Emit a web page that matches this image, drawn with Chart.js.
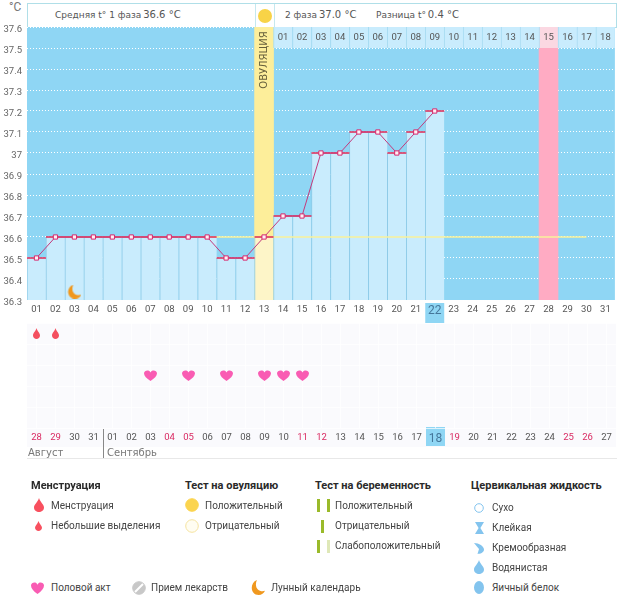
<!DOCTYPE html>
<html>
<head>
<meta charset="utf-8">
<script src="https://cdn.jsdelivr.net/npm/chart.js@4"></script>
<style>
  html, body { margin: 0; padding: 0; background: #fff; overflow: hidden; }
  body { position: relative; width: 626px; height: 595px; font-family: Roboto, sans-serif; color: #444; }
  canvas { display: block; }
  .abs { position: absolute; white-space: nowrap; }
  .t { position: absolute; white-space: nowrap; transform: translateY(-50%); line-height: 1; }
  .head { font-family: "DejaVu Sans", sans-serif; font-size: 9px; color: #555; }
  .head b { font-weight: normal; font-size: 10px; margin-left: -1px; }
  .leg { font-family: Roboto, sans-serif; font-size: 10px; color: #444; }
  .legb { font-family: Roboto, sans-serif; font-size: 11px; font-weight: bold; color: #2a2a2a; }
  .month { font-family: "DejaVu Sans", sans-serif; font-size: 10px; color: #777; }
</style>
</head>
<body>
<div class="abs" style="left:27px;top:3px;width:588px;height:23px;border:1px solid #b0dfe8;"></div>
<div class="abs" style="left:255px;top:4px;width:1px;height:23px;background:#c5e8ef;"></div>
<div class="abs" style="left:274px;top:4px;width:1px;height:23px;background:#c5e8ef;"></div>
<div class="abs" style="left:258px;top:9px;width:14px;height:14px;border-radius:50%;background:#f8d347;"></div>
<div class="t head" style="left:55px;top:15px;">Средняя t° 1 фаза <b>36.6 °C</b></div>
<div class="t head" style="left:285px;top:15px;">2 фаза <b>37.0 °C</b></div>
<div class="t head" style="left:376px;top:15px;">Разница t° <b>0.4 °C</b></div>
<div class="t" style="left:9px;top:7px;font-size:12px;color:#777;">°C</div>

<canvas id="tempChart" class="abs" style="left:0;top:0" width="626" height="325"></canvas>
<canvas id="symptomChart" class="abs" style="left:0;top:300px" width="626" height="160"></canvas>

<div class="t month" style="left:28px;top:453px;">Август</div>
<div class="t month" style="left:107px;top:453px;">Сентябрь</div>
<div class="abs" style="left:103px;top:429px;width:1px;height:29px;background:#888;"></div>
<div class="abs" style="left:27px;top:458px;width:590px;height:1px;background:#e8e8e8;"></div>
<div id="legend"></div>

<script>
const cycleDays = ["01","02","03","04","05","06","07","08","09","10","11","12","13","14","15","16",
  "17","18","19","20","21","22","23","24","25","26","27","28","29","30","31"];
const calendarDays = ["28","29","30","31","01","02","03","04","05","06","07","08","09","10","11","12",
  "13","14","15","16","17","18","19","20","21","22","23","24","25","26","27"];
const weekendDays = ["28","29","04","05","11","12","19","25","26"];
const phaseTwoDays = ["01","02","03","04","05","06","07","08","09","10","11","12","13","14","15","16","17","18"];
const tempTicks = ["36.3","36.4","36.5","36.6","36.7","36.8","36.9","37","37.1","37.2","37.3","37.4","37.5","37.6"];
const temps = [36.5,36.6,36.6,36.6,36.6,36.6,36.6,36.6,36.6,36.6,36.5,36.5,36.6,36.7,36.7,37.0,37.0,37.1,37.1,37.0,37.1,37.2,
  null,null,null,null,null,null,null,null,null];
const coverline = [null,36.6,36.6,36.6,36.6,36.6,36.6,36.6,36.6,36.6,36.6,36.6,36.6,36.6,36.6,36.6,36.6,36.6,36.6,36.6,36.6,36.6,
  36.6,36.6,36.6,36.6,36.6,36.6,36.6,36.6,null];
const ovulationDay = "13";
const expectedPeriodDay = "28";
const todayDay = "22";
const moonDays = ["03"];
const spottingDays = ["01","02"];
const sexDays = ["07","09","11","13","14","15"];

const BLUE = "#8fd6f4", LIGHT = "#c9ecfd", EDGE = "#8fcbe8", TODAY_TEXT = "#45779a";
const tickFont = { family: "Roboto", size: 9.5 };
const todayFont = { family: "Roboto", size: 12 };
const idx = (d) => cycleDays.indexOf(d);

const makeIcon = (w, h, draw) => {
  const c = document.createElement("canvas");
  c.width = w; c.height = h;
  draw(c.getContext("2d"), w, h);
  return c;
};
const drop = (color) => (g, w, h) => {
  g.fillStyle = color;
  g.beginPath();
  g.moveTo(w / 2, 0);
  g.bezierCurveTo(w * 0.62, h * 0.3, w, h * 0.45, w, h * 0.68);
  g.bezierCurveTo(w, h * 0.88, w * 0.75, h, w / 2, h);
  g.bezierCurveTo(w * 0.25, h, 0, h * 0.88, 0, h * 0.68);
  g.bezierCurveTo(0, h * 0.45, w * 0.38, h * 0.3, w / 2, 0);
  g.fill();
};
const heart = (color) => (g, w, h) => {
  g.fillStyle = color;
  g.beginPath();
  g.moveTo(w / 2, h);
  g.bezierCurveTo(w * 0.2, h * 0.78, 0, h * 0.55, 0, h * 0.3);
  g.bezierCurveTo(0, h * 0.05, w * 0.38, -h * 0.08, w / 2, h * 0.22);
  g.bezierCurveTo(w * 0.62, -h * 0.08, w, h * 0.05, w, h * 0.3);
  g.bezierCurveTo(w, h * 0.55, w * 0.8, h * 0.78, w / 2, h);
  g.fill();
};
const moon = (color) => (g, w, h) => {
  g.fillStyle = color;
  g.beginPath();
  g.moveTo(w * 0.42, 0);
  g.bezierCurveTo(-w * 0.12, h * 0.2, -w * 0.05, h, w * 0.55, h);
  g.bezierCurveTo(w * 0.75, h, w * 0.92, h * 0.9, w, h * 0.72);
  g.bezierCurveTo(w * 0.62, h * 0.85, w * 0.18, h * 0.55, w * 0.42, 0);
  g.fill();
};

const legendBox = document.getElementById("legend");
const addText = (cls, txt, x, y) => {
  const d = document.createElement("div");
  d.className = "t " + cls;
  d.style.left = x + "px";
  d.style.top = y + "px";
  d.textContent = txt;
  legendBox.appendChild(d);
};
const addIcon = (w, h, draw, cx, cy) => {
  const c = makeIcon(w, h, draw);
  c.className = "abs";
  c.style.left = Math.round(cx - w / 2) + "px";
  c.style.top = Math.round(cy - h / 2) + "px";
  legendBox.appendChild(c);
};
const circle = (fill, stroke) => (g, w, h) => {
  g.beginPath();
  g.arc(w / 2, h / 2, w / 2 - 0.7, 0, Math.PI * 2);
  g.fillStyle = fill; g.fill();
  g.strokeStyle = stroke; g.lineWidth = 1; g.stroke();
};
const bars = (first, second) => (g, w, h) => {
  g.fillStyle = first; g.fillRect(0, 0, 3, h);
  g.fillStyle = second; g.fillRect(w - 3, 0, 3, h);
};
const CF = "#83c4ee";

addText("legb", "Менструация", 31, 485);
addIcon(10, 14, drop("#f8505f"), 38.5, 505);
addText("leg", "Менструация", 51, 505.5);
addIcon(7, 10, drop("#f8505f"), 38.5, 526);
addText("leg", "Небольшие выделения", 51, 526);

addText("legb", "Тест на овуляцию", 185, 485);
addIcon(14, 14, circle("#fbd44f", "#fbd44f"), 192, 505);
addText("leg", "Положительный", 205, 505.5);
addIcon(14, 14, circle("#fffdf2", "#f5e3a0"), 192, 526);
addText("leg", "Отрицательный", 205, 526);

addText("legb", "Тест на беременность", 315, 485);
addIcon(13, 13, bars("#9aba2a", "#9aba2a"), 323, 505);
addText("leg", "Положительный", 335, 505.5);
addIcon(3, 13, bars("#9aba2a", "#9aba2a"), 322.5, 526);
addText("leg", "Отрицательный", 335, 526);
addIcon(13, 13, bars("#9aba2a", "#dfe8b8"), 323, 546);
addText("leg", "Слабоположительный", 335, 546);

addText("legb", "Цервикальная жидкость", 471, 485);
addIcon(10, 10, circle("#fff", CF), 479, 507.5);
addText("leg", "Сухо", 492, 507.5);
addIcon(9, 12, (g, w, h) => {
  g.fillStyle = CF;
  g.beginPath();
  g.moveTo(0, 0); g.lineTo(w, 0); g.lineTo(w * 0.6, h * 0.5); g.lineTo(w, h); g.lineTo(0, h); g.lineTo(w * 0.4, h * 0.5);
  g.fill();
}, 479, 528);
addText("leg", "Клейкая", 492, 528);
addIcon(10, 11, (g, w, h) => {
  g.fillStyle = CF;
  g.beginPath();
  g.moveTo(0, 0);
  g.bezierCurveTo(w * 0.5, 0, w, h * 0.3, w, h * 0.6);
  g.bezierCurveTo(w, h * 0.9, w * 0.6, h, w * 0.35, h);
  g.lineTo(w * 0.5, h * 0.55);
  g.fill();
}, 479, 548);
addText("leg", "Кремообразная", 492, 548);
addIcon(10, 14, drop(CF), 479, 567);
addText("leg", "Водянистая", 492, 568);
addIcon(10, 13, (g, w, h) => {
  g.fillStyle = CF;
  g.beginPath();
  g.ellipse(w / 2, h / 2, w / 2, h / 2, 0, 0, Math.PI * 2);
  g.fill();
}, 479, 587);
addText("leg", "Яичный белок", 492, 588);

addIcon(13, 12, heart("#f95cb3"), 37.5, 588);
addText("leg", "Половой акт", 51, 588);
addIcon(14, 14, (g, w, h) => {
  circle("#c8c8c8", "#c8c8c8")(g, w, h);
  g.strokeStyle = "#fff"; g.lineWidth = 2;
  g.beginPath(); g.moveTo(3, 11); g.lineTo(11, 3); g.stroke();
}, 139, 588);
addText("leg", "Прием лекарств", 151, 588);
addIcon(14, 15, moon("#f0981e"), 258, 587);
addText("leg", "Лунный календарь", 271, 588);

// backgrounds and texts that go with the library's scales
const tempDecor = {
  id: "tempDecor",
  beforeDraw(chart) {
    const { ctx, chartArea: a, scales: { x } } = chart;
    ctx.save();
    ctx.fillStyle = BLUE;
    ctx.fillRect(a.left, a.top, a.width, a.height);
    const cw = x.getPixelForValue(1) - x.getPixelForValue(0);
    ctx.fillRect(x.getPixelForValue(idx(todayDay)) - cw / 2, 303, cw, 20);
    ctx.restore();
  },
  afterDatasetsDraw(chart) {
    const { ctx, scales: { x, y } } = chart;
    ctx.save();
    ctx.font = "9.5px Roboto";
    ctx.fillStyle = "#555";
    ctx.textAlign = "center";
    ctx.textBaseline = "middle";
    const start = cycleDays.length - phaseTwoDays.length;
    phaseTwoDays.forEach((d, i) => ctx.fillText(d, x.getPixelForValue(start + i), y.getPixelForValue(37.55)));
    ctx.translate(x.getPixelForValue(idx(ovulationDay)), 60);
    ctx.rotate(-Math.PI / 2);
    ctx.font = "10px 'DejaVu Sans'";
    ctx.fillStyle = "#665f3c";
    ctx.fillText("ОВУЛЯЦИЯ", 0, 0);
    ctx.restore();
  },
};

const columnBars = (fn) => cycleDays.map(fn);

new Chart(document.getElementById("tempChart"), {
  type: "bar",
  data: {
    labels: cycleDays,
    datasets: [
      { type: "line", data: temps, order: 1, borderColor: "#c43a7c", borderWidth: 1, spanGaps: false,
        pointStyle: "rect", pointRadius: 3, pointBorderWidth: 1, pointBorderColor: "#d6286e", pointBackgroundColor: "#fff0f4" },
      { type: "line", data: temps, order: 2, showLine: false,
        pointStyle: "line", pointRadius: 9.5, pointBorderWidth: 1.6, pointBorderColor: "#dc3560" },
      { type: "line", data: coverline, order: 3, borderColor: "#f8f29a", borderWidth: 1.5, pointRadius: 0 },
      { type: "line", data: cycleDays.map((d) => (moonDays.includes(d) ? 36.34 : null)), order: 3, showLine: false,
        pointStyle: makeIcon(14, 14, moon("#f0981e")), pointRadius: 7 },
      { data: temps.map((t) => (t === null ? null : [36.3, t])), order: 4, grouped: false,
        barPercentage: 1, categoryPercentage: 1, borderSkipped: false,
        borderWidth: { left: 1, right: 0, top: 0, bottom: 0 }, borderColor: EDGE,
        backgroundColor: cycleDays.map((d) => (d === ovulationDay ? "#fdf5c8" : LIGHT)) },
      { data: columnBars((d) => (d === ovulationDay || d === expectedPeriodDay ? [36.3, 37.6] : null)), order: 6, grouped: false,
        barPercentage: 1, categoryPercentage: 1,
        backgroundColor: cycleDays.map((d) => (d === ovulationDay ? "#fdee9a" : "#ffabc3")) },
      { data: columnBars((d, i) => (i >= cycleDays.length - phaseTwoDays.length ? [37.5, 37.6] : null)), order: 5, grouped: false,
        barPercentage: 1, categoryPercentage: 1, borderSkipped: false,
        borderWidth: { left: 1, right: 0, top: 0, bottom: 0 }, borderColor: "#a9dcf2",
        backgroundColor: cycleDays.map((d) => (d === expectedPeriodDay ? "#fbd8e2" : LIGHT)) },
    ],
  },
  options: {
    responsive: false,
    animation: false,
    layout: { padding: { top: 27, right: 10, left: 0, bottom: 0 } },
    plugins: { legend: { display: false }, tooltip: { enabled: false } },
    scales: {
      x: {
        offset: true,
        afterFit: (s) => { s.height = 25; },
        grid: { display: false, drawTicks: false },
        border: { display: false },
        ticks: {
          autoSkip: false, maxRotation: 0, padding: 4,
          color: (c) => (cycleDays[c.index] === todayDay ? TODAY_TEXT : "#555"),
          font: (c) => (cycleDays[c.index] === todayDay ? todayFont : tickFont),
        },
      },
      y: {
        min: 36.3, max: 37.6,
        afterFit: (s) => { s.width = 27; },
        grid: { color: "#ffffff", lineWidth: 1, drawTicks: false },
        border: { display: false, dash: [1, 2] },
        ticks: { stepSize: 0.1, padding: 5, labelOffset: 3, color: "#666", font: tickFont, callback: (v, i) => tempTicks[i] },
      },
    },
  },
  plugins: [tempDecor],
});

const symptomDecor = {
  id: "symptomDecor",
  beforeDraw(chart) {
    const { ctx, chartArea: a, scales: { x } } = chart;
    ctx.save();
    ctx.fillStyle = "#fafafd";
    ctx.fillRect(a.left, a.top, a.width, 124);
    const cw = x.getPixelForValue(1) - x.getPixelForValue(0);
    ctx.fillStyle = BLUE;
    ctx.fillRect(x.getPixelForValue(idx(todayDay)) - cw / 2, a.bottom - 1, cw, 19);
    ctx.restore();
  },
};

new Chart(document.getElementById("symptomChart"), {
  type: "line",
  data: {
    labels: calendarDays,
    datasets: [
      { data: spottingDays.map((d) => ({ x: calendarDays[idx(d)], y: 4.5 })), showLine: false,
        pointStyle: makeIcon(7, 11, drop("#f4505f")), pointRadius: 6 },
      { data: sexDays.map((d) => ({ x: calendarDays[idx(d)], y: 2.5 })), showLine: false,
        pointStyle: makeIcon(13, 11, heart("#f95cb3")), pointRadius: 7 },
    ],
  },
  options: {
    responsive: false,
    animation: false,
    layout: { padding: { top: 23, right: 10, left: 0, bottom: 0 } },
    plugins: { legend: { display: false }, tooltip: { enabled: false } },
    scales: {
      x: {
        offset: true,
        afterFit: (s) => { s.height = 32; },
        grid: { color: "rgba(255,255,255,0.7)", drawTicks: false },
        border: { display: false },
        ticks: {
          autoSkip: false, maxRotation: 0, padding: 4,
          color: (c) => (cycleDays[c.index] === todayDay ? TODAY_TEXT : weekendDays.includes(calendarDays[c.index]) ? "#d92a62" : "#555"),
          font: (c) => (cycleDays[c.index] === todayDay ? todayFont : tickFont),
        },
      },
      y: {
        min: 0, max: 5,
        afterFit: (s) => { s.width = 27; },
        grid: { color: "rgba(255,255,255,0.7)", drawTicks: false },
        border: { display: false },
        ticks: { display: false, stepSize: 1 },
      },
    },
  },
  plugins: [symptomDecor],
});
</script>
</body>
</html>
